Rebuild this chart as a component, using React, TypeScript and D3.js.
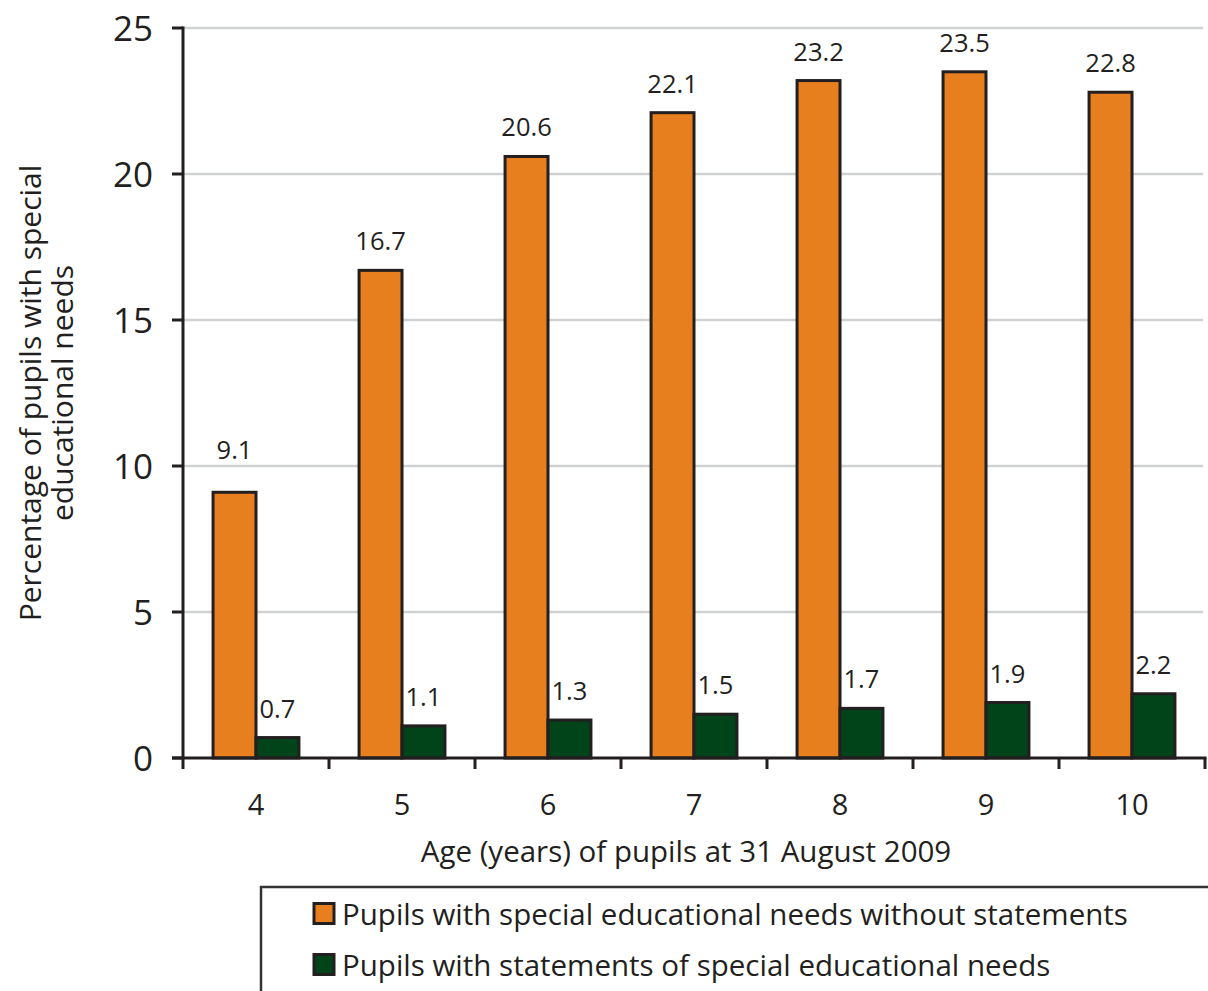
import React from "react";
import * as d3 from "d3";

const ages = ["4", "5", "6", "7", "8", "9", "10"];
const withoutStatements = [9.1, 16.7, 20.6, 22.1, 23.2, 23.5, 22.8];
const withStatements = [0.7, 1.1, 1.3, 1.5, 1.7, 1.9, 2.2];
const yTicks = [0, 5, 10, 15, 20, 25];
const seriesNames = [
  "Pupils with special educational needs without statements",
  "Pupils with statements of special educational needs",
];
const seriesColors = ["#E87F1F", "#02441A"];

const W = 1208;
const H = 991;
const FONT = "'Open Sans', 'Noto Sans', sans-serif";
const INK = "#231f20";

export default function App() {
  const left = 183;
  const right = 1205;
  const top = 28;
  const bottom = 758;

  const x = d3.scaleBand<string>().domain(ages).range([left, right]).paddingInner(0).paddingOuter(0);
  const y = d3.scaleLinear().domain([0, 25]).range([bottom, top]);
  const inner = d3
    .scaleBand<number>()
    .domain([0, 1])
    .range([0, x.bandwidth()])
    .paddingOuter(0.7)
    .paddingInner(0);

  const series = [withoutStatements, withStatements];
  const labelFont = 25.5;

  const labelBaseline = (v: number) => {
    let b = y(v) - 20;
    const topOfText = b - labelFont * 0.75;
    for (const t of yTicks) {
      const gy = y(t);
      if (gy > topOfText - 2 && gy < b + 2) {
        b = gy - 7;
      }
    }
    return b;
  };

  return (
    <svg
      width={W}
      height={H}
      style={{ position: "absolute", left: 0, top: 0, background: "#fff" }}
      fontFamily={FONT}
    >
      <rect x={0} y={0} width={W} height={H} fill="#fff" />
      {/* gridlines */}
      {yTicks
        .filter((t) => t > 0)
        .map((t) => (
          <line key={"g" + t} x1={left} x2={1203} y1={y(t)} y2={y(t)} stroke="#d0d1d3" strokeWidth={2.5} />
        ))}
      {/* bars */}
      {series.map((vals, si) =>
        vals.map((v, i) => (
          <rect
            key={"b" + si + "-" + i}
            x={(x(ages[i]) as number) + (inner(si) as number)}
            y={y(v)}
            width={inner.bandwidth()}
            height={y(0) - y(v)}
            fill={seriesColors[si]}
            stroke={INK}
            strokeWidth={3}
          />
        ))
      )}
      {/* data labels */}
      {series.map((vals, si) =>
        vals.map((v, i) => (
          <text
            key={"l" + si + "-" + i}
            x={(x(ages[i]) as number) + (inner(si) as number) + inner.bandwidth() / 2}
            y={labelBaseline(v)}
            textAnchor="middle"
            fontSize={labelFont}
            fill={INK}
          >
            {v.toFixed(1)}
          </text>
        ))
      )}
      {/* y axis */}
      <line x1={left} x2={left} y1={top - 1.5} y2={bottom} stroke={INK} strokeWidth={3} />
      {yTicks.map((t) => (
        <g key={"yt" + t}>
          <line x1={172} x2={left} y1={y(t)} y2={y(t)} stroke={INK} strokeWidth={3} />
          <text x={153} y={y(t)} dy="0.36em" textAnchor="end" fontSize={35} fill={INK}>
            {t}
          </text>
        </g>
      ))}
      {/* x axis */}
      <line x1={172} x2={right + 1.5} y1={bottom} y2={bottom} stroke={INK} strokeWidth={3} />
      {[...ages.map((a) => x(a) as number), right].map((px, i) => (
        <line key={"xt" + i} x1={px} x2={px} y1={bottom} y2={bottom + 11} stroke={INK} strokeWidth={3} />
      ))}
      {ages.map((a) => (
        <text
          key={"xl" + a}
          x={(x(a) as number) + x.bandwidth() / 2}
          y={815}
          textAnchor="middle"
          fontSize={29}
          fill={INK}
        >
          {a}
        </text>
      ))}
      <text x={(421 + 951) / 2} y={862} textAnchor="middle" fontSize={29.5} fill={INK}>
        Age (years) of pupils at 31 August 2009
      </text>
      {/* y title */}
      <g transform={`translate(0, 393) rotate(-90)`}>
        <text x={0} y={41} textAnchor="middle" fontSize={30} fill={INK}>
          Percentage of pupils with special
        </text>
        <text x={0} y={73} textAnchor="middle" fontSize={30} fill={INK}>
          educational needs
        </text>
      </g>
      {/* legend */}
      <rect x={261} y={887} width={1000} height={200} fill="#fff" stroke="#333" strokeWidth={2.5} />
      {seriesNames.map((n, i) => (
        <g key={"lg" + i} transform={`translate(0, ${i * 51})`}>
          <rect x={314} y={903.5} width={20} height={20} fill={seriesColors[i]} stroke={INK} strokeWidth={3} />
          <text x={342} y={925} fontSize={29.5} fill={INK}>
            {n}
          </text>
        </g>
      ))}
    </svg>
  );
}
